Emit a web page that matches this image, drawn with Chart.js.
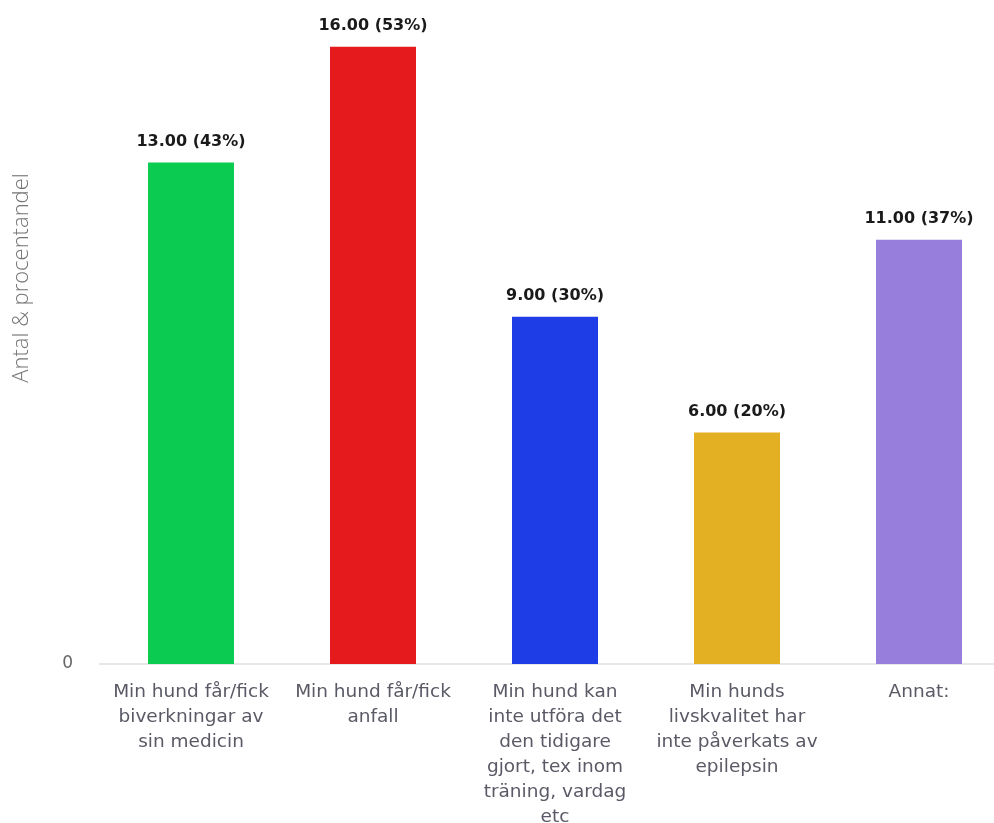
<!DOCTYPE html>
<html>
<head>
<meta charset="utf-8">
<script src="https://cdn.jsdelivr.net/npm/chart.js@4"></script>
<style>
html,body{margin:0;padding:0;background:#fff;overflow:hidden;}
#wrap{width:1010px;height:823px;}
</style>
</head>
<body>
<div id="wrap"><canvas id="c" width="1010" height="823"></canvas></div>
<script>
const categories = [
  ["Min hund får/fick", "biverkningar av", "sin medicin"],
  ["Min hund får/fick", "anfall"],
  ["Min hund kan", "inte utföra det", "den tidigare", "gjort, tex inom", "träning, vardag", "etc"],
  ["Min hunds", "livskvalitet har", "inte påverkats av", "epilepsin"],
  ["Annat:"]
];
const counts = [13, 16, 9, 6, 11];
const percents = [43, 53, 30, 20, 37];
const barColors = ["#0bcb51", "#e41a1c", "#1f3de6", "#e3b024", "#977ddc"];
const yTicks = [0];
const yTitle = "Antal & procentandel";

const labelPlugin = {
  id: 'barLabels',
  afterDatasetsDraw(chart) {
    const ctx = chart.ctx;
    const meta = chart.getDatasetMeta(0);
    ctx.save();
    ctx.font = 'bold 16px "DejaVu Sans"';
    ctx.fillStyle = '#1a1a1a';
    ctx.textAlign = 'center';
    ctx.textBaseline = 'middle';
    meta.data.forEach((el, i) => {
      ctx.fillText(counts[i].toFixed(2) + ' (' + percents[i] + '%)', el.x, el.y - 21);
    });
    ctx.restore();
  }
};

const titlePlugin = {
  id: 'yTitle',
  afterDraw(chart) {
    const ctx = chart.ctx;
    ctx.save();
    ctx.translate(22, 278);
    ctx.rotate(-Math.PI / 2);
    ctx.font = '300 22px "Open Sans"';
    ctx.fillStyle = '#747474';
    ctx.textAlign = 'center';
    ctx.textBaseline = 'middle';
    ctx.fillText(yTitle, 0, 0);
    ctx.restore();
  }
};

new Chart(document.getElementById('c'), {
  type: 'bar',
  data: {
    labels: categories,
    datasets: [{
      data: counts,
      backgroundColor: barColors,
      barPercentage: 0.4725,
      categoryPercentage: 1.0
    }]
  },
  options: {
    responsive: false,
    animation: false,
    layout: { padding: { top: 6, right: 0, left: 0, bottom: 0 } },
    plugins: { legend: { display: false }, tooltip: { enabled: false } },
    scales: {
      x: {
        grid: { display: false, drawTicks: false },
        border: { display: true, color: '#e6e6e6', width: 2 },
        ticks: {
          color: '#5a5a66',
          font: { family: '"DejaVu Sans"', size: 18.5, lineHeight: 25 / 18.5 },
          padding: 16,
          maxRotation: 0,
          autoSkip: false
        },
        afterFit(scale) { scale.height = 159; }
      },
      y: {
        min: 0,
        max: 16.25,
        grid: { display: false, drawTicks: false },
        border: { display: false },
        afterBuildTicks(scale) { scale.ticks = yTicks.map(v => ({ value: v })); },
        ticks: {
          color: '#666',
          font: { family: '"DejaVu Sans"', size: 17 },
          padding: 27
        },
        afterFit(scale) { scale.width = 100; }
      }
    }
  },
  plugins: [labelPlugin, titlePlugin]
});
</script>
</body>
</html>
